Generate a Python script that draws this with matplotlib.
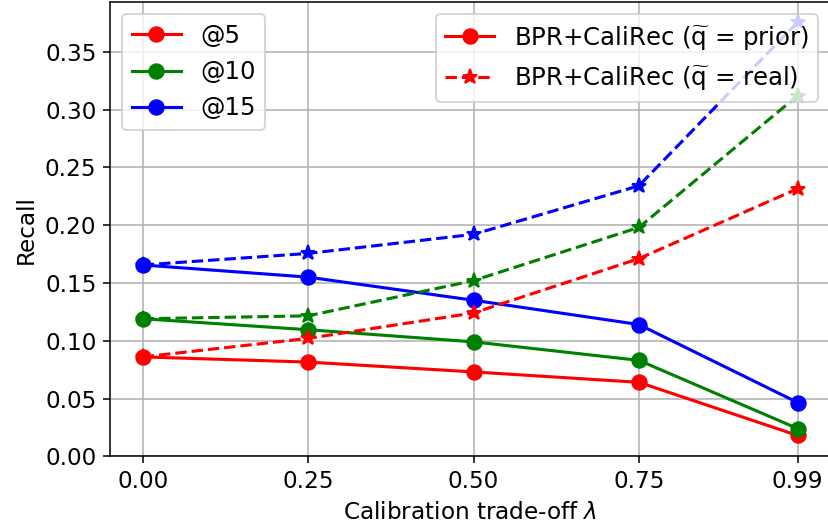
import matplotlib
matplotlib.use("Agg")
import matplotlib.pyplot as plt
from matplotlib.lines import Line2D

# Calibration trade-off values
lambdas = [0.00, 0.25, 0.50, 0.75, 0.99]
tick_labels = ["0.00", "0.25", "0.50", "0.75", "0.99"]

# Recall with prior target distribution
prior_at5 = [0.086, 0.0815, 0.073, 0.064, 0.018]
prior_at10 = [0.119, 0.1095, 0.099, 0.083, 0.024]
prior_at15 = [0.1655, 0.155, 0.135, 0.114, 0.0465]

# Recall with real target distribution
real_at5 = [0.086, 0.102, 0.124, 0.171, 0.2315]
real_at10 = [0.119, 0.1215, 0.152, 0.198, 0.312]
real_at15 = [0.1655, 0.1755, 0.192, 0.234, 0.3755]

cutoffs = ["@5", "@10", "@15"]
colors = ["red", "green", "blue"]

plt.rcParams["font.size"] = 12
dpi = 139
fig = plt.figure(figsize=(828 / dpi, 529 / dpi), dpi=dpi)
ax = fig.add_axes([110 / 828, (529 - 456.3) / 529, (830.4 - 110) / 828, (456.3 - 2) / 529])

lw = 1.6
for vals, c in zip([prior_at5, prior_at10, prior_at15], colors):
    ax.plot(lambdas, vals, color=c, linestyle="-", marker="o", markersize=7.5, linewidth=lw)
for vals, c in zip([real_at5, real_at10, real_at15], colors):
    ax.plot(lambdas, vals, color=c, linestyle="--", marker="*", markersize=8, linewidth=lw)

ax.set_xticks(lambdas)
ax.set_xticklabels(tick_labels)
ax.set_xlim(-0.0495, 1.0395)
ax.set_ylim(0, 0.393)
ax.grid(True)
ax.set_xlabel(r"Calibration trade-off $\lambda$")
ax.set_ylabel("Recall")

legend_size = 12.6
cut_handles = [Line2D([], [], color=c, marker="o", markersize=7.5, linewidth=lw) for c in colors]
leg1 = ax.legend(cut_handles, cutoffs, loc="upper left", fontsize=legend_size)
ax.add_artist(leg1)

type_handles = [
    Line2D([], [], color="red", linestyle="-", marker="o", markersize=7.5, linewidth=lw),
    Line2D([], [], color="red", linestyle="--", marker="*", markersize=8, linewidth=lw),
]
type_labels = [
    r"BPR+CaliRec ($\widetilde{\mathrm{q}}$ = prior)",
    r"BPR+CaliRec ($\widetilde{\mathrm{q}}$ = real)",
]
ax.legend(type_handles, type_labels, loc="upper right", fontsize=legend_size)

fig.savefig("out.png", dpi=dpi)
